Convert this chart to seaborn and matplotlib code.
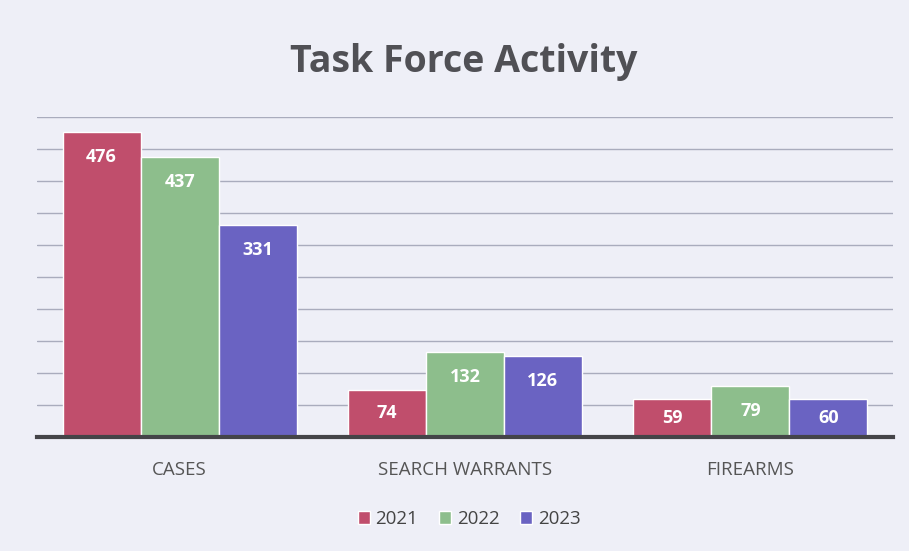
import matplotlib
matplotlib.use("Agg")
import matplotlib.pyplot as plt
import seaborn as sns
import pandas as pd
from matplotlib.patches import Patch

categories = ["CASES", "SEARCH WARRANTS", "FIREARMS"]
years = ["2021", "2022", "2023"]
values_2021 = [476, 74, 59]
values_2022 = [437, 132, 79]
values_2023 = [331, 126, 60]

colors = ["#C04E6C", "#8DBE8C", "#6A63C2"]

rows = []
for yr, vals in zip(years, [values_2021, values_2022, values_2023]):
    for c, v in zip(categories, vals):
        rows.append({"category": c, "year": yr, "value": v})
df = pd.DataFrame(rows)

sns.set_theme(style="white")
plt.rcParams["font.family"] = ["Open Sans", "DejaVu Sans"]

bg = "#EEEFF7"
fig = plt.figure(figsize=(9.09, 5.51), dpi=100, facecolor=bg)
ax = fig.add_axes([37 / 909, (551 - 437) / 551, 856 / 909, 320.5 / 551])
ax.set_facecolor("none")

sns.barplot(data=df, x="category", y="value", hue="year", hue_order=years,
            order=categories, palette=colors, width=0.82, saturation=1,
            ax=ax, legend=False, zorder=3)

ax.set_xlim(-0.5, 2.5)
ax.set_ylim(0, 500)
ax.set_yticks(range(50, 501, 50))
ax.yaxis.grid(True, color="#A9ACBD", linewidth=1.0, zorder=0)
ax.set_yticklabels([])
ax.tick_params(axis="y", length=0)
ax.tick_params(axis="x", length=0, pad=17, labelsize=13.5, labelcolor="#555555")
ax.set_xlabel("")
ax.set_ylabel("")
for s in ["top", "right", "left"]:
    ax.spines[s].set_visible(False)
ax.spines["bottom"].set_color("#444448")
ax.spines["bottom"].set_linewidth(3)
ax.spines["bottom"].set_zorder(4)

for cont in ax.containers:
    for bar in cont:
        v = bar.get_height()
        y = max(v - 39, v / 2)
        ax.text(bar.get_x() + bar.get_width() / 2, y, f"{int(round(v))}",
                ha="center", va="center", color="white", fontsize=13,
                fontweight="bold", zorder=5)

fig.text(464 / 909, 1 - 62 / 551, "Task Force Activity", ha="center", va="center",
         fontsize=27, fontweight="bold", color="#505055")

handles = [Patch(facecolor=c, label=y) for c, y in zip(colors, years)]
fig.legend(handles=handles, loc="center", bbox_to_anchor=(469 / 909, 1 - 519 / 551),
           ncol=3, frameon=False, fontsize=13.5, handlelength=0.65, handleheight=0.65,
           handletextpad=0.3, columnspacing=1.1, labelcolor="#444444")

fig.savefig("out.png", dpi=100, facecolor=bg)
